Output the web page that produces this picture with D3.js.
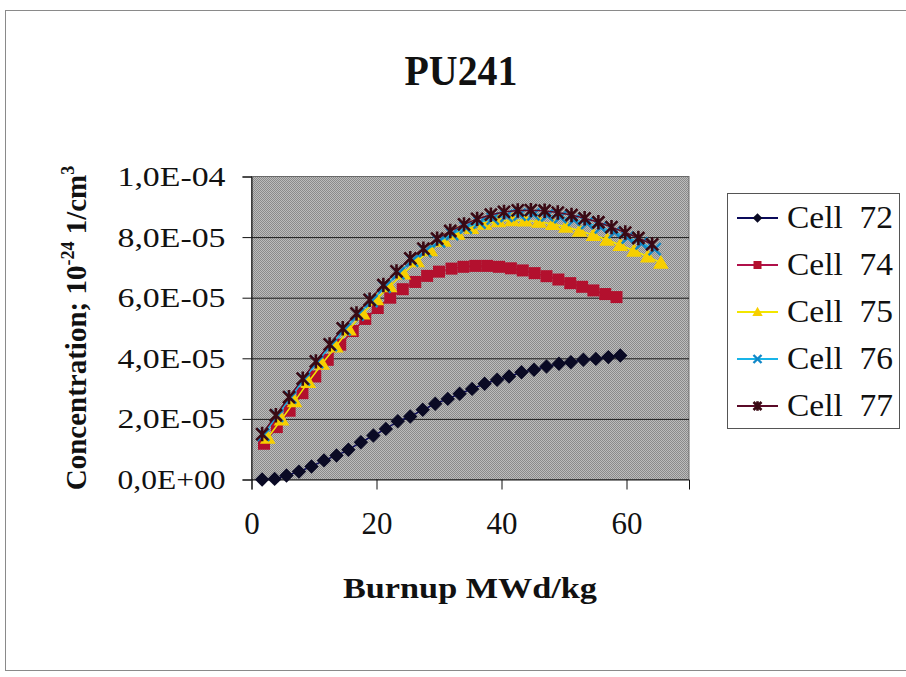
<!DOCTYPE html>
<html>
<head>
<meta charset="utf-8">
<script src="https://cdn.jsdelivr.net/npm/d3@7"></script>
<style>
  html, body { margin: 0; padding: 0; background: #fff; }
  svg { display: block; }
  text { font-family: "Liberation Serif", "Times New Roman", serif; fill: #111; }
</style>
</head>
<body>
<svg id="chart" width="906" height="677"></svg>
<script>
// Pu-241 concentration vs. burnup, five fuel cells (values in units of 1e-5 x 10^-24 1/cm^3)
const UNIT = 1e-5;

const cell72Burnup = [1.7, 3.7, 5.6, 7.6, 9.6, 11.6, 13.6, 15.5, 17.5, 19.5, 21.5, 23.4, 25.4, 27.4, 29.4,
                      31.4, 33.3, 35.3, 37.3, 39.3, 41.2, 43.2, 45.2, 47.2, 49.2, 51.1, 53.1, 55.1, 57.1, 59.0];
const cell72Conc   = [0.00, 0.02, 0.13, 0.26, 0.43, 0.63, 0.79, 0.98, 1.23, 1.45, 1.67, 1.92, 2.08, 2.30, 2.50,
                      2.66, 2.83, 2.99, 3.16, 3.29, 3.40, 3.54, 3.62, 3.73, 3.82, 3.87, 3.95, 3.98, 4.04, 4.09];

const cell74Burnup = [2.0, 4.05, 6.1, 8.15, 10.2, 12.2, 14.2, 16.2, 18.2, 20.2, 22.2, 24.2, 26.2, 28.1, 30.0,
                      32.0, 33.9, 35.8, 37.7, 39.6, 41.5, 43.4, 45.3, 47.2, 49.1, 51.0, 52.9, 54.7, 56.6, 58.4];
const cell74Conc   = [1.18, 1.73, 2.27, 2.85, 3.40, 3.95, 4.45, 4.90, 5.30, 5.66, 6.00, 6.28, 6.52, 6.72, 6.86,
                      6.96, 7.02, 7.05, 7.05, 7.02, 6.97, 6.90, 6.81, 6.71, 6.60, 6.48, 6.36, 6.24, 6.12, 6.02];

const cell75Burnup = [2.6, 4.8, 6.9, 9.1, 11.3, 13.5, 15.6, 17.8, 20.0, 22.1, 24.3, 26.5, 28.6, 30.8, 33.0,
                      35.2, 37.3, 39.5, 41.7, 43.8, 46.0, 48.2, 50.3, 52.5, 54.7, 56.9, 59.0, 61.2, 63.4, 65.5];
const cell75Conc   = [1.38, 1.98, 2.58, 3.22, 3.82, 4.39, 4.95, 5.48, 5.95, 6.38, 6.80, 7.20, 7.57, 7.88, 8.11,
                      8.30, 8.44, 8.52, 8.56, 8.55, 8.51, 8.43, 8.34, 8.21, 8.07, 7.91, 7.74, 7.55, 7.36, 7.15];

const cell76Burnup = [1.9, 4.1, 6.2, 8.4, 10.5, 12.7, 14.9, 17.0, 19.2, 21.3, 23.5, 25.7, 27.8, 30.0, 32.1,
                      34.3, 36.5, 38.6, 40.8, 42.9, 45.1, 47.3, 49.4, 51.6, 53.7, 55.9, 58.1, 60.2, 62.4, 64.5];
const cell76Conc   = [1.47, 2.10, 2.70, 3.30, 3.87, 4.43, 4.95, 5.44, 5.89, 6.36, 6.80, 7.22, 7.54, 7.86, 8.10,
                      8.31, 8.48, 8.61, 8.70, 8.74, 8.75, 8.72, 8.66, 8.57, 8.46, 8.32, 8.16, 7.98, 7.79, 7.60];

const cell77Burnup = [1.7, 3.9, 6.0, 8.2, 10.3, 12.5, 14.6, 16.8, 18.9, 21.1, 23.2, 25.4, 27.5, 29.7, 31.8,
                      34.0, 36.1, 38.3, 40.4, 42.6, 44.7, 46.9, 49.0, 51.2, 53.3, 55.5, 57.6, 59.8, 61.9, 64.1];
const cell77Conc   = [1.50, 2.12, 2.72, 3.33, 3.90, 4.46, 4.99, 5.48, 5.93, 6.42, 6.87, 7.30, 7.62, 7.95, 8.20,
                      8.42, 8.60, 8.74, 8.83, 8.88, 8.89, 8.87, 8.81, 8.73, 8.62, 8.49, 8.33, 8.15, 7.97, 7.76];

const seriesNames  = ["Cell  72", "Cell  74", "Cell  75", "Cell  76", "Cell  77"];
const xTickValues  = [0, 20, 40, 60];
const xTickLabels  = ["0", "20", "40", "60"];
const yTickValues  = [0, 2e-5, 4e-5, 6e-5, 8e-5, 1e-4];
const yTickLabels  = ["0,0E+00", "2,0E-05", "4,0E-05", "6,0E-05", "8,0E-05", "1,0E-04"];

const series = [
  { name: seriesNames[0], x: cell72Burnup, y: cell72Conc, line: "#0a0a5a", fill: "#0a0a24", shape: "diamond" },
  { name: seriesNames[1], x: cell74Burnup, y: cell74Conc, line: "#b0104a", fill: "#b3102e", shape: "square" },
  { name: seriesNames[2], x: cell75Burnup, y: cell75Conc, line: "#f2e600", fill: "#f7cf00", shape: "triangle" },
  { name: seriesNames[3], x: cell76Burnup, y: cell76Conc, line: "#18b4e8", fill: "#1088c8", shape: "cross" },
  { name: seriesNames[4], x: cell77Burnup, y: cell77Conc, line: "#5a0a28", fill: "#3a0a14", shape: "star" }
];

const svg = d3.select("#chart");

// outer chart frame
svg.append("rect").attr("x", 5.5).attr("y", 10.5).attr("width", 906).attr("height", 660)
  .attr("fill", "#fff").attr("stroke", "#8a8a8a").attr("stroke-width", 1);

const plot = { left: 251.5, right: 689, top: 176.5, bottom: 479.5 };
const x = d3.scaleLinear().domain([0, 70]).range([plot.left, plot.right]);
const y = d3.scaleLinear().domain([0, 1e-4]).range([plot.bottom, plot.top]);

// halftone grey plot background
const defs = svg.append("defs");
const pat = defs.append("pattern").attr("id", "screen").attr("patternUnits", "userSpaceOnUse")
  .attr("width", 2).attr("height", 2);
pat.append("rect").attr("width", 2).attr("height", 2).attr("fill", "#bcbcbc");
pat.append("rect").attr("width", 1).attr("height", 1).attr("fill", "#8a8a8a");
pat.append("rect").attr("x", 1).attr("y", 1).attr("width", 1).attr("height", 1).attr("fill", "#8a8a8a");

svg.append("rect").attr("x", plot.left).attr("y", plot.top)
  .attr("width", plot.right - plot.left).attr("height", plot.bottom - plot.top)
  .attr("fill", "url(#screen)").attr("stroke", "#6a6a6a").attr("stroke-width", 1);

// horizontal gridlines
svg.append("g").attr("transform", `translate(${plot.left},0)`)
  .call(d3.axisLeft(y).tickValues(yTickValues.slice(1, -1)).tickSize(-(plot.right - plot.left)).tickFormat(""))
  .call(g => g.select(".domain").remove())
  .call(g => g.selectAll("line").attr("stroke", "#1a1a1a").attr("stroke-width", 1));

// y axis
const yAxis = svg.append("g").attr("transform", `translate(${plot.left},0)`)
  .call(d3.axisLeft(y).tickValues(yTickValues).tickSize(9).tickPadding(17)
    .tickFormat((d, i) => yTickLabels[i]));
yAxis.select(".domain").attr("stroke", "#111");
yAxis.selectAll("line").attr("stroke", "#111");
yAxis.selectAll("text").attr("font-size", 28).attr("fill", "#111")
  .attr("font-family", "Liberation Serif")
  .attr("textLength", 108).attr("lengthAdjust", "spacingAndGlyphs");

// x axis
const xAxis = svg.append("g").attr("transform", `translate(0,${plot.bottom})`)
  .call(d3.axisBottom(x).tickValues(xTickValues).tickSize(10).tickPadding(22)
    .tickFormat((d, i) => xTickLabels[i]));
xAxis.select(".domain").attr("stroke", "#111");
xAxis.selectAll("line").attr("stroke", "#111");
xAxis.selectAll("text").attr("font-size", 31).attr("fill", "#111")
  .attr("font-family", "Liberation Serif");

// titles
svg.append("text").attr("x", 461).attr("y", 85).attr("text-anchor", "middle")
  .attr("font-size", 42).attr("font-weight", "bold")
  .attr("textLength", 113).attr("lengthAdjust", "spacingAndGlyphs").text("PU241");

svg.append("text").attr("x", 470).attr("y", 598).attr("text-anchor", "middle")
  .attr("font-size", 29).attr("font-weight", "bold")
  .attr("textLength", 254).attr("lengthAdjust", "spacingAndGlyphs")
  .text("Burnup MWd/kg");

const yTitle = svg.append("text")
  .attr("transform", "translate(86,328) rotate(-90)")
  .attr("text-anchor", "middle").attr("font-size", 29).attr("font-weight", "bold");
yTitle.append("tspan").text("Concentration; 10");
yTitle.append("tspan").attr("font-size", 18).attr("dy", -12).text("-24");
yTitle.append("tspan").attr("dy", 12).text(" 1/cm");
yTitle.append("tspan").attr("font-size", 18).attr("dy", -12).text("3");

// marker drawing
function drawMarker(sel, shape, color, k) {
  if (shape === "diamond") {
    sel.append("path").attr("d", `M0,${-6 * k}L${6 * k},0L0,${6 * k}L${-6 * k},0Z`).attr("fill", color);
  } else if (shape === "square") {
    sel.append("rect").attr("x", -5 * k).attr("y", -5 * k).attr("width", 10 * k).attr("height", 10 * k).attr("fill", color);
  } else if (shape === "triangle") {
    sel.append("path").attr("d", `M0,${-6.5 * k}L${6.5 * k},${5 * k}L${-6.5 * k},${5 * k}Z`).attr("fill", color);
  } else if (shape === "cross") {
    const r = 5 * k;
    sel.append("path").attr("d", `M${-r},${-r}L${r},${r}M${-r},${r}L${r},${-r}`)
      .attr("stroke", color).attr("stroke-width", 2.4).attr("fill", "none");
  } else if (shape === "star") {
    const r = 5 * k;
    sel.append("path").attr("d", `M${-r},${-r}L${r},${r}M${-r},${r}L${r},${-r}M0,${-1.2 * r}L0,${1.2 * r}`)
      .attr("stroke", color).attr("stroke-width", 2.6).attr("fill", "none");
  }
}

const lineGen = d3.line().x(d => x(d[0])).y(d => y(d[1] * UNIT));

series.forEach(s => {
  const pts = s.x.map((v, i) => [v, s.y[i]]);
  const g = svg.append("g");
  g.append("path").datum(pts).attr("d", lineGen)
    .attr("fill", "none").attr("stroke", s.line).attr("stroke-width", 1.5);
  g.selectAll("g.pt").data(pts).join("g").attr("class", "pt")
    .attr("transform", d => `translate(${x(d[0])},${y(d[1] * UNIT)})`)
    .each(function () { drawMarker(d3.select(this), s.shape, s.fill, 1.2); });
});

// legend
const legend = svg.append("g");
legend.append("rect").attr("x", 727.5).attr("y", 193.5).attr("width", 172).attr("height", 235)
  .attr("fill", "#fff").attr("stroke", "#555").attr("stroke-width", 1);
series.forEach((s, i) => {
  const cy = 218 + i * 47;
  const row = legend.append("g");
  row.append("line").attr("x1", 737).attr("x2", 778).attr("y1", cy).attr("y2", cy)
    .attr("stroke", s.line).attr("stroke-width", 2);
  const m = row.append("g").attr("transform", `translate(757.5,${cy})`);
  drawMarker(m, s.shape, s.fill, 0.8);
  row.append("text").attr("x", 787).attr("y", cy + 10).attr("font-size", 31)
    .attr("xml:space", "preserve").style("white-space", "pre")
    .attr("textLength", 106).attr("lengthAdjust", "spacingAndGlyphs")
    .text(s.name);
});
</script>
</body>
</html>
